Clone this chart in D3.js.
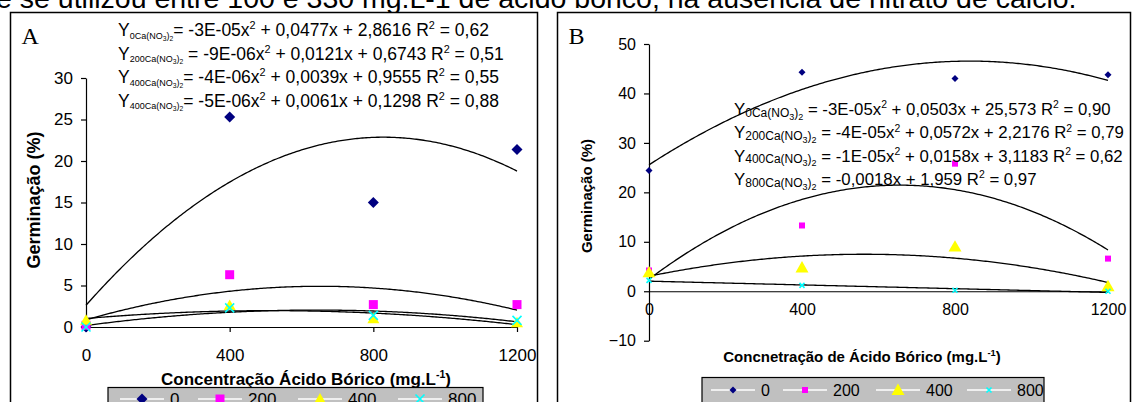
<!DOCTYPE html>
<html>
<head>
<meta charset="utf-8">
<script src="https://cdn.jsdelivr.net/npm/d3@7/dist/d3.min.js"></script>
<style>
  html, body { margin: 0; padding: 0; background: #fff; }
  svg { display: block; font-family: "Liberation Sans", Arial, sans-serif; }
</style>
</head>
<body>
<div id="wrapper"></div>
<script>
// concentrações de ácido bórico (eixo x)
var xVals = [0, 400, 800, 1200];
var legendNames = ['0', '200', '400', '800'];
var xTicks = [0, 400, 800, 1200];

// Painel A - germinação (%)
var aS0 = [0, 25.3, 15.0, 21.4];
var aS200 = [0.2, 6.3, 2.7, 2.7];
var aS400 = [0.8, 2.6, 1.0, 0.5];
var aS800 = [0, 2.3, 1.4, 0.8];
var aTicksY = [0, 5, 10, 15, 20, 25, 30];

// Painel B - germinação (%)
var bS0 = [24.4, 44.3, 43.0, 43.8];
var bS200 = [4.2, 13.3, 25.8, 6.6];
var bS400 = [3.8, 4.8, 9.0, 1.0];
var bS800 = [2.2, 1.2, 0.2, 0.0];
var bTicksY = [-10, 0, 10, 20, 30, 40, 50];

// equações das linhas de tendência (texto)
var eqSubA = ['0', '200', '400', '400'];
var eqBodyA = ['= -3E-05x^2 + 0,0477x + 2,8616 R^2 = 0,62',
               ' = -9E-06x^2 + 0,0121x + 0,6743 R^2 = 0,51',
               '= -4E-06x^2 + 0,0039x + 0,9555 R^2 = 0,55',
               '= -5E-06x^2 + 0,0061x + 0,1298 R^2 = 0,88'];
var eqSubB = ['0', '200', '400', '800'];
var eqBodyB = [' = -3E-05x^2 + 0,0503x + 25,573 R^2 = 0,90',
               ' = -4E-05x^2 + 0,0572x + 2,2176 R^2 = 0,79',
               ' = -1E-05x^2 + 0,0158x + 3,1183 R^2 = 0,62',
               ' = -0,0018x + 1,959 R^2 = 0,97'];

var colors = ['#000080', '#ff00ff', '#ffff00', '#00ffff'];

// ajuste polinomial (minimos quadrados), t = x/400
function fit(xs, ys, deg) {
    var n = deg + 1, M = [], v = [];
    for (var i = 0; i < n; i++) {
        M[i] = [];
        for (var j = 0; j < n; j++) M[i][j] = d3.sum(xs, function (x) { return Math.pow(x / 400, i + j); });
        v[i] = d3.sum(xs, function (x, k) { return Math.pow(x / 400, i) * ys[k]; });
    }
    for (var c = 0; c < n; c++) {
        for (var r = c + 1; r < n; r++) {
            var f = M[r][c] / M[c][c];
            for (var k = c; k < n; k++) M[r][k] -= f * M[c][k];
            v[r] -= f * v[c];
        }
    }
    var co = [];
    for (var r2 = n - 1; r2 >= 0; r2--) {
        var s = v[r2];
        for (var k2 = r2 + 1; k2 < n; k2++) s -= M[r2][k2] * co[k2];
        co[r2] = s / M[r2][r2];
    }
    return function (x) { return d3.sum(co, function (cc, i) { return cc * Math.pow(x / 400, i); }); };
}

// marcadores
function marker(type, r) {
    if (type == 0) return 'M0,' + (-r) + 'L' + r + ',0L0,' + r + 'L' + (-r) + ',0Z';
    if (type == 1) return 'M' + (-r) + ',' + (-r) + 'h' + 2 * r + 'v' + 2 * r + 'h' + (-2 * r) + 'Z';
    if (type == 2) return 'M0,' + (-r) + 'L' + r + ',' + (r * 0.75) + 'L' + (-r) + ',' + (r * 0.75) + 'Z';
    return 'M' + (-r) + ',' + (-r) + 'L' + r + ',' + r + 'M' + (-r) + ',' + r + 'L' + r + ',' + (-r);
}
function drawMarker(g, type, r, x, y) {
    g.append('path').attr('d', marker(type, r)).attr('transform', 'translate(' + x + ',' + y + ')')
        .attr('fill', type == 3 ? 'none' : colors[type])
        .attr('stroke', type == 3 ? colors[type] : 'none')
        .attr('stroke-width', 1.6);
}

// equação com subscrito / sobrescrito
function equation(g, x, y, sub, body, size, subSize, shift) {
    var t = g.append('text').attr('x', x).attr('y', y).style('font-size', size + 'px').attr('fill', '#000');
    var off = 0;
    function part(txt, fs, o) {
        t.append('tspan').attr('dy', o - off).style('font-size', fs + 'px').text(txt);
        off = o;
    }
    part('Y', size, 0);
    var sb = subSize * shift;
    part(sub + 'Ca(NO', subSize, sb);
    part('3', subSize * 0.75, sb + subSize * 0.25);
    part(')', subSize, sb);
    part('2', subSize * 0.75, sb + subSize * 0.25);
    var pieces = body.split('^2');
    pieces.forEach(function (p, i) {
        part(p, size, 0);
        if (i < pieces.length - 1) part('2', size * 0.62, -size * 0.4);
    });
}

var svg = d3.select('#wrapper').append('svg').attr('width', 1133).attr('height', 402);
svg.append('rect').attr('width', 1133).attr('height', 402).attr('fill', '#fff');

// texto cortado no topo
svg.append('text').attr('x', -4).attr('y', 8).style('font-size', '28.5px')
    .text('e se utilizou entre 100 e 330 mg.L-1 de ácido bórico, na ausência de nitrato de cálcio.');

function panel(cfg) {
    var g = svg.append('g');
    g.append('rect').attr('x', cfg.box[0]).attr('y', cfg.box[1]).attr('width', cfg.box[2]).attr('height', 420)
        .attr('fill', '#fff').attr('stroke', '#000').attr('stroke-width', 1.5);
    g.append('text').attr('x', cfg.box[0] + 11).attr('y', 44).style('font-family', '"Liberation Serif", serif')
        .style('font-size', '24px').text(cfg.letter);

    var x = d3.scaleLinear().domain([0, 1200]).range(cfg.xr);
    var y = d3.scaleLinear().domain(cfg.yd).range(cfg.yr);

    var ay = g.append('g').attr('transform', 'translate(' + cfg.xr[0] + ',0)')
        .call(d3.axisLeft(y).tickValues(cfg.yticks).tickFormat(d3.format('d')).tickSize(5).tickSizeOuter(0).tickPadding(8));
    var ax = g.append('g').attr('transform', 'translate(0,' + y(0) + ')')
        .call(d3.axisBottom(x).tickValues(xTicks).tickFormat(d3.format('d')).tickSize(cfg.xtick).tickSizeOuter(0).tickPadding(cfg.xpad));
    [ay, ax].forEach(function (a) {
        a.select('.domain').attr('stroke', '#000').attr('stroke-width', 1.2);
        a.selectAll('line').attr('stroke', '#000').attr('stroke-width', 1.2);
        a.selectAll('text').style('font-size', cfg.tickFs + 'px').style('font-family', '"Liberation Sans", Arial, sans-serif').attr('fill', '#000');
    });

    // titulos
    g.append('text').attr('transform', 'translate(' + cfg.ytX + ',' + cfg.ytY + ') rotate(-90)')
        .attr('text-anchor', 'middle').style('font-weight', 'bold').style('font-size', cfg.ytFs + 'px')
        .text('Germinação (%)');
    var xt = g.append('text').attr('x', cfg.xtX).attr('y', cfg.xtY).attr('text-anchor', 'middle')
        .style('font-weight', 'bold').style('font-size', cfg.titleFs + 'px');
    xt.append('tspan').text(cfg.xTitle);
    xt.append('tspan').attr('dy', -cfg.titleFs * 0.4).style('font-size', (cfg.titleFs * 0.62) + 'px').text('-1');
    xt.append('tspan').attr('dy', cfg.titleFs * 0.4).text(')');

    // linhas de tendência
    var line = d3.line().x(function (d) { return x(d[0]); }).y(function (d) { return y(d[1]); });
    cfg.series.forEach(function (s, i) {
        var f = fit(xVals, s, cfg.deg[i]);
        var pts = d3.range(0, 1200.1, 5).map(function (v) { return [v, f(v)]; });
        g.append('path').attr('d', line(pts)).attr('fill', 'none').attr('stroke', '#000').attr('stroke-width', 1.3);
    });

    // pontos
    cfg.series.forEach(function (s, i) {
        s.forEach(function (v, j) { drawMarker(g, i, cfg.mr[i], x(xVals[j]), y(v)); });
    });

    // equações
    cfg.eqSub.forEach(function (sub, i) {
        equation(g, cfg.eqX, cfg.eqY + i * cfg.eqDy, sub, cfg.eqBody[i], cfg.eqFs, cfg.eqSubFs, cfg.eqShift);
    });

    // legenda
    var L = cfg.legend;
    g.append('rect').attr('x', L.x).attr('y', L.y).attr('width', L.w).attr('height', 40)
        .attr('fill', '#c0c0c0').attr('stroke', '#000').attr('stroke-width', 1.2);
    legendNames.forEach(function (name, i) {
        var cx = L.items[i];
        g.append('line').attr('x1', cx - 22).attr('x2', cx + 22).attr('y1', L.row).attr('y2', L.row)
            .attr('stroke', '#fff').attr('stroke-width', 1.5);
        drawMarker(g, i, cfg.mr[i], cx, L.row);
        g.append('text').attr('x', cx + 28).attr('y', L.row + 6).style('font-size', cfg.tickFs + 'px').text(name);
    });
}

panel({
    letter: 'A', box: [10.5, 12.5, 527],
    xr: [86, 517], yd: [0, 30], yr: [327, 78], yticks: aTicksY,
    xtick: 5, xpad: 17, tickFs: 17, titleFs: 17, ytFs: 18,
    ytX: 40, ytY: 200, xtX: 306, xtY: 385,
    xTitle: 'Concentração Ácido Bórico (mg.L',
    series: [aS0, aS200, aS400, aS800], deg: [2, 2, 2, 2], mr: [5.5, 4.5, 6, 4.5],
    eqSub: eqSubA, eqBody: eqBodyA, eqX: 118, eqY: 36, eqDy: 23.5, eqFs: 17.5, eqSubFs: 9, eqShift: 0.3,
    legend: { x: 108, y: 387.5, w: 375, row: 399, items: [142, 220, 320, 420] }
});

panel({
    letter: 'B', box: [557.5, 12.5, 573],
    xr: [649, 1108], yd: [-10, 50], yr: [340.7, 44], yticks: bTicksY,
    xtick: 0, xpad: 12, tickFs: 16, titleFs: 15, ytFs: 15,
    ytX: 592, ytY: 196, xtX: 862, xtY: 362,
    xTitle: 'Concnetração de Ácido Bórico (mg.L',
    series: [bS0, bS200, bS400, bS800], deg: [2, 2, 2, 1], mr: [3.5, 3, 6.5, 2.5],
    eqSub: eqSubB, eqBody: eqBodyB, eqX: 734, eqY: 115, eqDy: 23.3, eqFs: 16.8, eqSubFs: 12, eqShift: 0.15,
    legend: { x: 702, y: 377.5, w: 342, row: 390, items: [733, 805, 898, 989] }
});
</script>
</body>
</html>
